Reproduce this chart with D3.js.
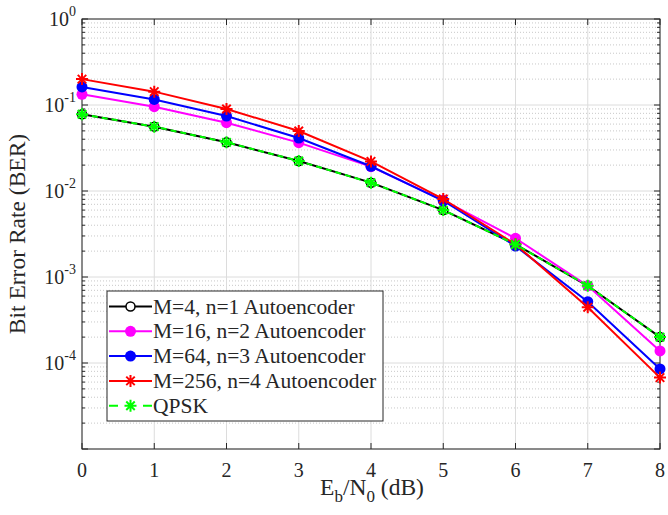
<!DOCTYPE html>
<html>
<head>
<meta charset="utf-8">
<script src="https://cdn.jsdelivr.net/npm/d3@7"></script>
<style>
  body { margin: 0; background: #fff; }
  text { font-family: "Liberation Serif", "Times New Roman", serif; fill: #262626; }
</style>
</head>
<body>
<div id="chart"></div>
<script>
// data
var snr = [0, 1, 2, 3, 4, 5, 6, 7, 8];
var ae4 = [0.078, 0.056, 0.0368, 0.0223, 0.0125, 0.006, 0.0024, 0.00079, 0.0002];
var ae16 = [0.133, 0.0955, 0.0623, 0.0365, 0.0192, 0.0078, 0.00282, 0.00079, 0.000138];
var ae64 = [0.162, 0.116, 0.0745, 0.0413, 0.0194, 0.0077, 0.00229, 0.000516, 0.0000853];
var ae256 = [0.2, 0.143, 0.09, 0.0499, 0.0221, 0.00807, 0.0024, 0.000444, 0.0000676];
var qpsk = [0.078, 0.056, 0.0368, 0.0223, 0.0125, 0.006, 0.00239, 0.00079, 0.0002];
var seriesNames = ["M=4, n=1 Autoencoder", "M=16, n=2 Autoencoder", "M=64, n=3 Autoencoder", "M=256, n=4 Autoencoder", "QPSK"];
var xTicks = [0, 1, 2, 3, 4, 5, 6, 7, 8];
var yDecades = [-5, -4, -3, -2, -1, 0];

var series = [
  {name: seriesNames[0], values: ae4, color: "#000000", marker: "open", dash: null},
  {name: seriesNames[1], values: ae16, color: "#ff00ff", marker: "dot", dash: null},
  {name: seriesNames[2], values: ae64, color: "#0000ff", marker: "dot", dash: null},
  {name: seriesNames[3], values: ae256, color: "#ff0000", marker: "star", dash: null},
  {name: seriesNames[4], values: qpsk, color: "#00ff00", marker: "star", dash: "6,4"}
];

var margin = {top: 19, right: 8, bottom: 66, left: 82},
    width = 668 - margin.left - margin.right,
    height = 515 - margin.top - margin.bottom;

var x = d3.scaleLinear().domain([0, 8]).range([0, width]);
var y = d3.scaleLog().domain([1e-5, 1]).range([height, 0]);

var base = d3.select("#chart").append("svg")
    .attr("width", 668)
    .attr("height", 515);

var svg = base.append("g")
    .attr("transform", "translate(" + margin.left + "," + margin.top + ")");

// minor log gridlines (dotted)
var minor = [];
yDecades.slice(0, -1).forEach(function(e) {
  for (var k = 2; k <= 9; k++) minor.push(k * Math.pow(10, e));
});
svg.append("g").selectAll("line").data(minor).enter().append("line")
    .attr("x1", 0).attr("x2", width)
    .attr("y1", function(d) { return y(d); })
    .attr("y2", function(d) { return y(d); })
    .attr("stroke", "#c8c8c8").attr("stroke-width", 1)
    .attr("stroke-dasharray", "1,2");

// major gridlines
svg.append("g").selectAll("line").data(yDecades).enter().append("line")
    .attr("x1", 0).attr("x2", width)
    .attr("y1", function(d) { return y(Math.pow(10, d)); })
    .attr("y2", function(d) { return y(Math.pow(10, d)); })
    .attr("stroke", "#dcdcdc").attr("stroke-width", 1);

svg.append("g").selectAll("line").data(xTicks).enter().append("line")
    .attr("x1", function(d) { return x(d); })
    .attr("x2", function(d) { return x(d); })
    .attr("y1", 0).attr("y2", height)
    .attr("stroke", "#dcdcdc").attr("stroke-width", 1);

// frame and ticks
svg.append("rect")
    .attr("width", width).attr("height", height)
    .attr("fill", "none").attr("stroke", "#262626").attr("stroke-width", 1);

svg.append("g").selectAll("line").data(xTicks).enter().append("line")
    .attr("x1", function(d) { return x(d); })
    .attr("x2", function(d) { return x(d); })
    .attr("y1", height).attr("y2", height - 6)
    .attr("stroke", "#262626");
svg.append("g").selectAll("line").data(xTicks).enter().append("line")
    .attr("x1", function(d) { return x(d); })
    .attr("x2", function(d) { return x(d); })
    .attr("y1", 0).attr("y2", 6)
    .attr("stroke", "#262626");

var yTickVals = yDecades.map(function(e) { return Math.pow(10, e); });
[0, width].forEach(function(xx) {
  var dir = xx === 0 ? 1 : -1;
  svg.append("g").selectAll("line").data(yTickVals).enter().append("line")
      .attr("x1", xx).attr("x2", xx + dir * 6)
      .attr("y1", function(d) { return y(d); })
      .attr("y2", function(d) { return y(d); })
      .attr("stroke", "#262626");
  svg.append("g").selectAll("line").data(minor).enter().append("line")
      .attr("x1", xx).attr("x2", xx + dir * 3)
      .attr("y1", function(d) { return y(d); })
      .attr("y2", function(d) { return y(d); })
      .attr("stroke", "#262626");
});

// x tick labels
svg.append("g").selectAll("text").data(xTicks).enter().append("text")
    .attr("x", function(d) { return x(d); })
    .attr("y", height + 28)
    .attr("text-anchor", "middle")
    .style("font-size", "20px")
    .text(function(d) { return d; });

// y tick labels 10^e
var yl = svg.append("g").selectAll("text").data(yDecades.slice(1)).enter().append("text")
    .attr("x", -6)
    .attr("y", function(d) { return y(Math.pow(10, d)) + 7; })
    .attr("text-anchor", "end")
    .style("font-size", "20px");
yl.append("tspan").text("10");
yl.append("tspan").attr("dy", -10).style("font-size", "14px")
    .text(function(d) { return d === 0 ? "0" : "-" + Math.abs(d); });

// axis titles
svg.append("text")
    .attr("transform", "translate(-57," + (height / 2 - 0) + ") rotate(-90)")
    .attr("text-anchor", "middle")
    .style("font-size", "23.5px")
    .text("Bit Error Rate (BER)");

var xt = svg.append("text")
    .attr("x", width / 2 + 1)
    .attr("y", height + 46)
    .attr("text-anchor", "middle")
    .style("font-size", "23.5px");
xt.append("tspan").text("E");
xt.append("tspan").attr("dy", 7).style("font-size", "17px").text("b");
xt.append("tspan").attr("dy", -7).text("/N");
xt.append("tspan").attr("dy", 7).style("font-size", "17px").text("0");
xt.append("tspan").attr("dy", -7).text(" (dB)");

// markers
function drawMarker(g, s, cx, cy) {
  if (s.marker === "open") {
    g.append("circle").attr("cx", cx).attr("cy", cy).attr("r", 4.5)
        .attr("fill", "#fff").attr("stroke", s.color).attr("stroke-width", 1.5);
  } else if (s.marker === "dot") {
    g.append("circle").attr("cx", cx).attr("cy", cy).attr("r", 5.5)
        .attr("fill", s.color);
  } else {
    var r = 6, p = "";
    [0, 45, 90, 135].forEach(function(a) {
      var dx = r * Math.cos(a * Math.PI / 180), dy = r * Math.sin(a * Math.PI / 180);
      p += "M" + (cx - dx) + "," + (cy - dy) + "L" + (cx + dx) + "," + (cy + dy);
    });
    g.append("path").attr("d", p).attr("stroke", s.color).attr("stroke-width", 2)
        .attr("fill", "none");
  }
}

var line = d3.line()
    .x(function(d, i) { return x(snr[i]); })
    .y(function(d) { return y(d); });

series.forEach(function(s) {
  var g = svg.append("g");
  g.append("path")
      .datum(s.values)
      .attr("d", line)
      .attr("fill", "none")
      .attr("stroke", s.color)
      .attr("stroke-width", 2)
      .attr("stroke-dasharray", s.dash);
  s.values.forEach(function(v, i) { drawMarker(g, s, x(snr[i]), y(v)); });
});

// legend
var lg = base.append("g").attr("transform", "translate(107,291)");
lg.append("rect")
    .attr("width", 276).attr("height", 130)
    .attr("fill", "#fff").attr("stroke", "#262626").attr("stroke-width", 1);
series.forEach(function(s, i) {
  var cy = 15.5 + i * 24.8;
  var row = lg.append("g");
  row.append("line")
      .attr("x1", 2).attr("x2", 45).attr("y1", cy).attr("y2", cy)
      .attr("stroke", s.color).attr("stroke-width", 2)
      .attr("stroke-dasharray", s.dash ? "9,25,9" : null);
  drawMarker(row, s, 23.5, cy);
  row.append("text")
      .attr("x", 46).attr("y", cy + 7)
      .style("font-size", "21.5px")
      .text(s.name);
});
</script>
</body>
</html>
